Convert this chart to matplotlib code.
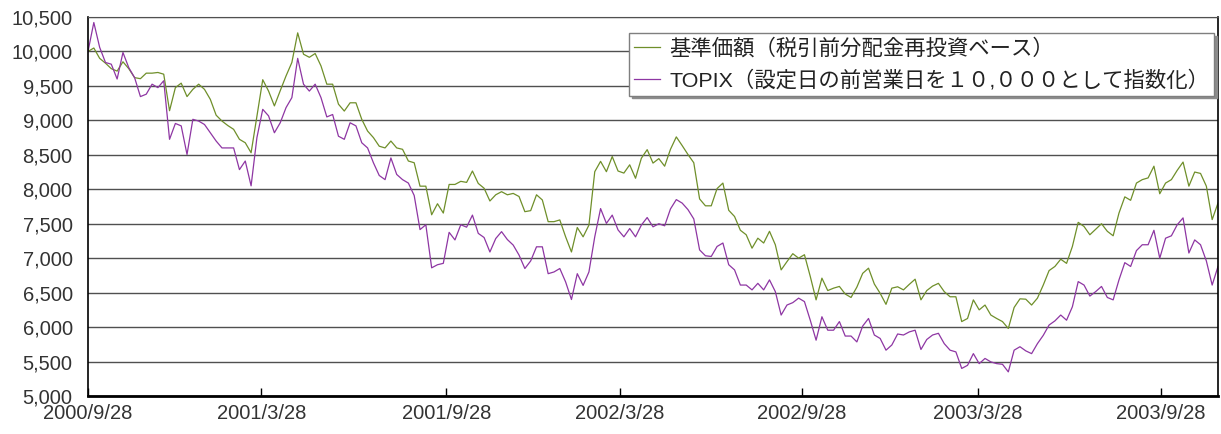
import numpy as np
import matplotlib.pyplot as plt
from matplotlib.ticker import FuncFormatter

# 基準価額 と TOPIX（設定日の前営業日=10,000）、4営業日ごとの値
fund = [10000, 10050, 9900, 9830, 9750, 9715, 9850, 9750, 9620, 9605,
        9685, 9685, 9695, 9670, 9140, 9475, 9540, 9345, 9450, 9525,
        9450, 9305, 9075, 8990, 8925, 8870, 8725, 8675, 8530, 9065,
        9590, 9425, 9210, 9430, 9645, 9840, 10270, 9960, 9915, 9970,
        9790, 9525, 9525, 9235, 9135, 9255, 9255, 9015, 8845, 8750,
        8625, 8600, 8700, 8600, 8580, 8410, 8385, 8045, 8045, 7630,
        7790, 7655, 8070, 8070, 8115, 8100, 8265, 8085, 8015, 7830,
        7920, 7965, 7920, 7940, 7895, 7675, 7690, 7920, 7845, 7530,
        7530, 7555, 7310, 7090, 7445, 7310, 7480, 8255, 8405, 8255,
        8475, 8265, 8235, 8355, 8160, 8450, 8575, 8380, 8445, 8335,
        8580, 8760, 8635, 8505, 8385, 7860, 7760, 7760, 8010, 8090,
        7695, 7605, 7405, 7340, 7145, 7290, 7220, 7390, 7195, 6830,
        6950, 7065, 7000, 7050, 6735, 6395, 6710, 6530, 6565, 6590,
        6480, 6430, 6580, 6780, 6855, 6625, 6490, 6330, 6565, 6585,
        6540, 6620, 6695, 6395, 6530, 6595, 6635, 6515, 6440, 6440,
        6080, 6125, 6395, 6250, 6320, 6175, 6125, 6080, 5980, 6285,
        6410, 6405, 6320, 6420, 6610, 6820, 6880, 6985, 6925, 7170,
        7520, 7460, 7340, 7420, 7500, 7390, 7325, 7655, 7890, 7840,
        8090, 8140, 8165, 8335, 7935, 8090, 8140, 8275, 8395, 8045,
        8250, 8230, 8045, 7560, 7800]

topix = [10000, 10420, 10060, 9840, 9815, 9600, 9985, 9765, 9620, 9345,
         9380, 9525, 9475, 9575, 8725, 8955, 8920, 8505, 9015, 8990,
         8940, 8820, 8700, 8600, 8600, 8600, 8285, 8410, 8050, 8750,
         9160, 9065, 8820, 8965, 9185, 9330, 9900, 9525, 9425, 9525,
         9330, 9050, 9085, 8770, 8725, 8965, 8920, 8675, 8600, 8385,
         8200, 8140, 8455, 8215, 8140, 8090, 7910, 7415, 7485, 6860,
         6905, 6925, 7375, 7265, 7485, 7450, 7625, 7360, 7300, 7090,
         7285, 7385, 7270, 7190, 7045, 6850, 6960, 7165, 7165, 6775,
         6800, 6850, 6655, 6400, 6775, 6605, 6800, 7310, 7720, 7505,
         7625, 7410, 7310, 7430, 7310, 7480, 7590, 7455, 7500, 7470,
         7715, 7850, 7800, 7705, 7570, 7120, 7035, 7025, 7170, 7220,
         6905, 6830, 6610, 6610, 6540, 6635, 6540, 6685, 6515, 6175,
         6320, 6355, 6420, 6370, 6100, 5810, 6150, 5955, 5955, 6080,
         5870, 5870, 5785, 6015, 6125, 5885, 5835, 5665, 5740, 5900,
         5885, 5930, 5955, 5675, 5820, 5885, 5910, 5760, 5665, 5640,
         5400, 5445, 5615, 5470, 5545, 5495, 5470, 5460, 5350, 5665,
         5715, 5655, 5615, 5760, 5880, 6030, 6090, 6175, 6100, 6295,
         6660, 6610, 6450, 6515, 6590, 6430, 6395, 6685, 6935, 6880,
         7110, 7195, 7195, 7405, 7000, 7290, 7325, 7485, 7585, 7075,
         7265, 7195, 6960, 6610, 6880]

step_days = 4
tick_days = [0, 119, 246, 365, 490, 611, 737]
tick_labels = ["2000/9/28", "2001/3/28", "2001/9/28", "2002/3/28",
               "2002/9/28", "2003/3/28", "2003/9/28"]

plt.rcParams['font.family'] = ['Liberation Sans', 'Noto Sans CJK JP']

fig = plt.figure(figsize=(12.21, 4.34), dpi=100)
ax = fig.add_axes([88 / 1221, 1 - 396 / 434, 1130 / 1221, 379 / 434])

x_fund = np.arange(len(fund)) * step_days
x_topix = np.arange(len(topix)) * step_days
ax.plot(x_fund, fund, color='#6f8f2a', lw=0.9,
        label='基準価額（税引前分配金再投資ベース）')
ax.plot(x_topix, topix, color='#8e36a3', lw=0.9,
        label='TOPIX（設定日の前営業日を１０,０００として指数化）')

ax.set_xlim(0, x_fund[-1])
ax.set_ylim(5000, 10500)
ax.set_yticks(np.arange(5000, 10501, 500))
ax.yaxis.set_major_formatter(FuncFormatter(lambda v, p: f"{v:,.0f}"))
ax.grid(axis='y', color='#505050', lw=1.0)
ax.set_axisbelow(True)

ax.set_xticks(tick_days, tick_labels)
ax.tick_params(axis='x', direction='in', length=6, width=1, pad=6,
               labelsize=14.5, labelcolor='#333333', color='black')
ax.tick_params(axis='y', length=0, pad=11, labelsize=14.5,
               labelcolor='#333333')

ax.spines['left'].set_linewidth(1.2)
ax.spines['bottom'].set_linewidth(2.0)
ax.spines['right'].set_linewidth(1.2)
ax.spines['top'].set_color('#505050')

leg = ax.legend(loc='upper left', bbox_to_anchor=(0.4788, 0.958),
                borderaxespad=0, fontsize=15.4, frameon=True, fancybox=False,
                shadow={'color': '#8c8c8c', 'alpha': 1.0},
                handlelength=1.25, handletextpad=0.4, labelspacing=0.55,
                borderpad=0.22)
leg.get_frame().set_edgecolor('#7f7f7f')
leg.get_frame().set_linewidth(1.0)
for t in leg.get_texts():
    t.set_color('#222222')

fig.savefig('out.png', dpi=100)
